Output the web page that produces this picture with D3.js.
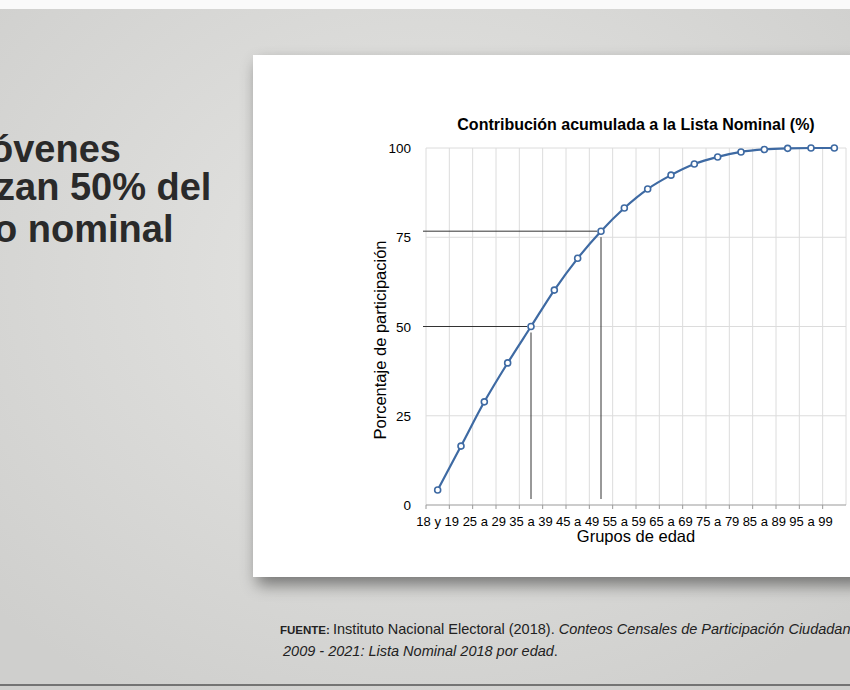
<!DOCTYPE html><html><head><meta charset="utf-8"><script src="https://cdn.jsdelivr.net/npm/d3@7"></script>
<style>body{margin:0;overflow:hidden}svg{display:block}</style></head><body><svg width="850" height="690"></svg><script>
const categories=["18 y 19","20 a 24","25 a 29","30 a 34","35 a 39","40 a 44","45 a 49","50 a 54","55 a 59","60 a 64","65 a 69","70 a 74","75 a 79","80 a 84","85 a 89","90 a 94","95 a 99","100+"];
const values=[4.2,16.5,28.9,39.8,50.0,60.2,69.1,76.7,83.2,88.5,92.4,95.5,97.5,98.9,99.6,99.9,100,100];
const yTicks=[0,25,50,75,100];
const svg=d3.select("svg");
const defs=svg.append("defs");
const g1=defs.append("radialGradient").attr("id","bg").attr("cx","50%").attr("cy","40%").attr("r","70%");
g1.append("stop").attr("offset","0").attr("stop-color","#e6e6e4");g1.append("stop").attr("offset","1").attr("stop-color","#cfcfcd");
const f=defs.append("filter").attr("id","sh").attr("x","-10%").attr("y","-10%").attr("width","130%").attr("height","130%");
f.append("feDropShadow").attr("dx",4).attr("dy",8).attr("stdDeviation",8).attr("flood-opacity",0.45);
svg.append("rect").attr("width",850).attr("height",690).attr("fill","url(#bg)");
svg.append("rect").attr("width",850).attr("height",9).attr("fill","#fafafa");
svg.append("line").attr("x1",0).attr("x2",850).attr("y1",685).attr("y2",685).attr("stroke","#555").attr("stroke-width",1.5);
const head=svg.append("text").attr("font-family","Liberation Sans, Arial").attr("font-weight","bold").attr("font-size",38).attr("fill","#2a2a2a");
[["óvenes",162,-10],["zan 50% del",200,-4],["o nominal",242,-6]].forEach(([t,y,xx])=>head.append("tspan").attr("x",xx).attr("y",y).text(t));
svg.append("rect").attr("x",253).attr("y",55).attr("width",610).attr("height",522).attr("fill","#fff").attr("filter","url(#sh)");
const ft=svg.append("text").attr("font-family","Liberation Sans, Arial").attr("font-size",14.5).attr("fill","#222");
const l1=ft.append("tspan").attr("x",280).attr("y",634);
l1.append("tspan").attr("font-weight","bold").attr("font-size",11.5).text("FUENTE: ");
l1.append("tspan").text("Instituto Nacional Electoral (2018). ");
l1.append("tspan").attr("font-style","italic").text("Conteos Censales de Participación Ciudadana");
const l2=ft.append("tspan").attr("x",283).attr("y",656);
l2.append("tspan").attr("font-style","italic").text("2009 - 2021: Lista Nominal 2018 por edad");l2.append("tspan").text(".");
const L=426,R=846,T=148,B=505;
const x=d3.scaleBand().domain(categories).range([L,R]);
const y=d3.scaleLinear().domain([0,100]).range([B,T]);
const g=svg.append("g").attr("font-family","Liberation Sans, Arial");
g.selectAll(".vg").data(categories).enter().append("line").attr("x1",d=>x(d)+x.bandwidth()).attr("x2",d=>x(d)+x.bandwidth()).attr("y1",T).attr("y2",B).attr("stroke","#dcdcdc");
g.append("line").attr("x1",L).attr("x2",L).attr("y1",T).attr("y2",B).attr("stroke","#dcdcdc");
g.selectAll(".hg").data(yTicks).enter().append("line").attr("x1",L).attr("x2",R).attr("y1",d=>y(d)).attr("y2",d=>y(d)).attr("stroke",d=>d==0?"#999":"#dcdcdc");
g.selectAll(".xt").data(categories).enter().append("line").attr("x1",d=>x(d)).attr("x2",d=>x(d)).attr("y1",B).attr("y2",B+4).attr("stroke","#999");
g.selectAll(".yl").data(yTicks).enter().append("text").attr("x",L-15).attr("y",d=>y(d)+5).attr("text-anchor","end").attr("font-size",13.5).text(d=>d);
g.selectAll(".xl").data(categories.filter((d,i)=>i%2==0)).enter().append("text").attr("x",d=>x(d)+x.bandwidth()/2).attr("y",B+21).attr("text-anchor","middle").attr("font-size",13).text(d=>d);
g.append("text").attr("x",636).attr("y",542).attr("text-anchor","middle").attr("font-size",16.5).text("Grupos de edad");
g.append("text").attr("transform","translate(386,340) rotate(-90)").attr("text-anchor","middle").attr("font-size",16.5).text("Porcentaje de participación");
g.append("text").attr("x",636).attr("y",130).attr("text-anchor","middle").attr("font-size",16).attr("font-weight","bold").text("Contribución acumulada a la Lista Nominal (%)");
const cx=d=>x(d)+x.bandwidth()/2;
[[4,50],[7,76.7]].forEach(([i,v])=>{
 g.append("line").attr("x1",L-3).attr("x2",cx(categories[i])-4).attr("y1",y(v)).attr("y2",y(v)).attr("stroke","#333");
 g.append("line").attr("x1",cx(categories[i])).attr("x2",cx(categories[i])).attr("y1",y(v)+6).attr("y2",B-6).attr("stroke","#333");
});
g.append("path").datum(values).attr("d",d3.line().x((d,i)=>cx(categories[i])).y(d=>y(d)).curve(d3.curveMonotoneX)).attr("fill","none").attr("stroke","#3e6aa3").attr("stroke-width",2.2);
g.selectAll(".pt").data(values).enter().append("circle").attr("cx",(d,i)=>cx(categories[i])).attr("cy",d=>y(d)).attr("r",3).attr("fill","#fff").attr("stroke","#3e6aa3").attr("stroke-width",1.6);
</script></body></html>
